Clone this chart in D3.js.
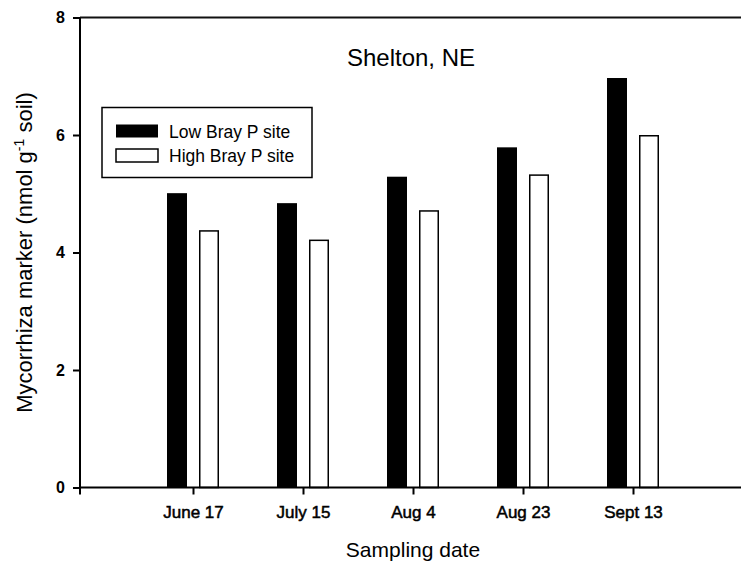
<!DOCTYPE html>
<html>
<head>
<meta charset="utf-8">
<script src="https://cdn.jsdelivr.net/npm/d3@7"></script>
<style>
  html, body { margin: 0; padding: 0; background: #fff; }
  svg { display: block; font-family: "Liberation Sans", Arial, Helvetica, sans-serif; }
</style>
</head>
<body>
<svg id="chart" width="741" height="566"></svg>
<script>
const categories = ["June 17", "July 15", "Aug 4", "Aug 23", "Sept 13"];
const lowBrayP = [5.01, 4.84, 5.29, 5.79, 6.97];
const highBrayP = [4.38, 4.22, 4.72, 5.33, 6.00];
const seriesNames = ["Low Bray P site", "High Bray P site"];
const yTicks = [0, 2, 4, 6, 8];

(function () {
const svg = d3.select("#chart");
const pLeft = 80, pRight = 741, pTop = 17.5, pBottom = 487.5;

const y = d3.scaleLinear().domain([0, 8]).range([pBottom, pTop]);
const x = d3.scaleLinear().domain([0, 4]).range([193, 633]);
const barW = 20, gap = 12;

// top border
svg.append("line").attr("x1", pLeft).attr("x2", pRight).attr("y1", pTop).attr("y2", pTop)
  .attr("stroke", "#111").attr("stroke-width", 2);

// bars
const g = svg.append("g");
categories.forEach((c, i) => {
  const cx = x(i);
  g.append("rect")
    .attr("x", cx - gap / 2 - barW).attr("y", y(lowBrayP[i]))
    .attr("width", barW).attr("height", y(0) - y(lowBrayP[i]))
    .attr("fill", "#000");
  g.append("rect")
    .attr("x", cx + gap / 2 + 0.75).attr("y", y(highBrayP[i]) + 0.75)
    .attr("width", barW - 1.5).attr("height", y(0) - y(highBrayP[i]) - 0.75)
    .attr("fill", "#fff").attr("stroke", "#000").attr("stroke-width", 1.5);
});

// y axis
const yAxis = d3.axisLeft(y).tickValues(yTicks).tickFormat(d3.format("d")).tickSize(7).tickPadding(8);
const ya = svg.append("g").attr("transform", `translate(${pLeft},0)`).call(yAxis);
ya.select(".domain").attr("stroke", "#000").attr("stroke-width", 2).attr("d", `M0,${pTop}V${pBottom}`);
ya.selectAll(".tick line").attr("stroke", "#000").attr("stroke-width", 2);
ya.selectAll(".tick text").attr("font-size", 16).attr("fill", "#000")
  .attr("font-family", "'Liberation Sans', Arial, sans-serif").attr("font-weight", "bold");

// x axis
const xAxis = d3.axisBottom(x).tickValues(d3.range(categories.length))
  .tickFormat(i => categories[i]).tickSize(7).tickPadding(11);
const xa = svg.append("g").attr("transform", `translate(0,${pBottom})`).call(xAxis);
xa.select(".domain").attr("stroke", "#000").attr("stroke-width", 2).attr("d", `M${pLeft},0H${pRight}`);
xa.selectAll(".tick line").attr("stroke", "#000").attr("stroke-width", 2);
xa.selectAll(".tick text").attr("font-size", 17).attr("fill", "#000")
  .attr("stroke", "#000").attr("stroke-width", 0.5)
  .attr("font-family", "'Liberation Sans', Arial, sans-serif");
xa.append("line").attr("x1", pLeft).attr("x2", pLeft).attr("y1", 0).attr("y2", 7)
  .attr("stroke", "#000").attr("stroke-width", 2);

// title
svg.append("text").attr("x", 411).attr("y", 66).attr("text-anchor", "middle")
  .attr("font-size", 24).attr("fill", "#000").text("Shelton, NE");

// axis titles
svg.append("text").attr("x", 413).attr("y", 557).attr("text-anchor", "middle")
  .attr("font-size", 21).attr("fill", "#000").text("Sampling date");

const yl = svg.append("text")
  .attr("transform", `translate(32,${(pTop + pBottom) / 2}) rotate(-90)`)
  .attr("text-anchor", "middle").attr("font-size", 22).attr("fill", "#000");
yl.append("tspan").text("Mycorrhiza marker (nmol g");
yl.append("tspan").attr("dy", -8).attr("font-size", 14).text("-1");
yl.append("tspan").attr("dy", 8).text(" soil)");

// legend
const lg = svg.append("g");
lg.append("rect").attr("x", 102).attr("y", 107.5).attr("width", 210).attr("height", 70)
  .attr("fill", "#fff").attr("stroke", "#000").attr("stroke-width", 1.5);
const sw = [{fill: "#000", stroke: "none"}, {fill: "#fff", stroke: "#000"}];
seriesNames.forEach((n, i) => {
  const yy = 124.5 + i * 24.5;
  lg.append("rect").attr("x", 116).attr("y", yy).attr("width", 42).attr("height", 13)
    .attr("fill", sw[i].fill).attr("stroke", sw[i].stroke).attr("stroke-width", 1.5);
  lg.append("text").attr("x", 169).attr("y", yy + 13).attr("font-size", 17.5)
    .attr("fill", "#000").text(n);
});
})();
</script>
</body>
</html>
